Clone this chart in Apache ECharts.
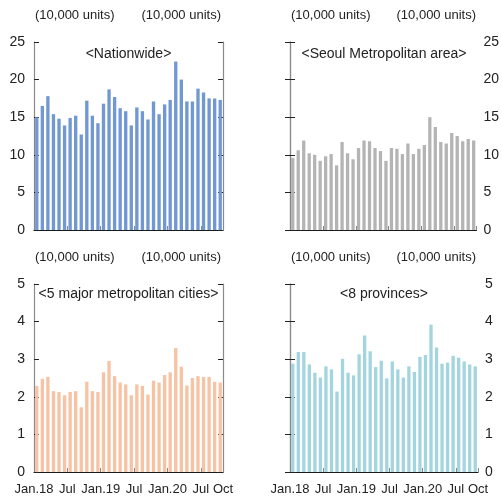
<!DOCTYPE html>
<html>
<head>
<meta charset="utf-8">
<title>Housing transactions</title>
<script src="https://cdn.jsdelivr.net/npm/echarts@6/dist/echarts.min.js"></script>
<style>
  html, body { margin: 0; padding: 0; background: #fff; }
  #chart { width: 502px; height: 499px; }
</style>
</head>
<body>
<div id="chart"></div>
<script>
// months Jan.18 .. Oct.20
const months = [
  '2018-01', '2018-02', '2018-03', '2018-04', '2018-05', '2018-06',
  '2018-07', '2018-08', '2018-09', '2018-10', '2018-11', '2018-12',
  '2019-01', '2019-02', '2019-03', '2019-04', '2019-05', '2019-06',
  '2019-07', '2019-08', '2019-09', '2019-10', '2019-11', '2019-12',
  '2020-01', '2020-02', '2020-03', '2020-04', '2020-05', '2020-06',
  '2020-07', '2020-08', '2020-09', '2020-10'
];

// x tick marks sit on month boundaries
const tickPos = [0, 6, 12, 18, 24, 30, 34];
const tickLabels = ['Jan.18', 'Jul', 'Jan.19', 'Jul', 'Jan.20', 'Jul', 'Oct'];

// (10,000 units)
const nationwide = [
  15.0, 16.5, 17.8, 15.4, 14.8, 13.9, 14.9, 15.2, 12.7, 17.2, 15.2, 14.2,
  16.8, 18.7, 17.7, 16.2, 15.8, 13.9, 16.3, 15.8, 14.7, 17.1, 15.4, 16.7,
  17.3, 22.4, 20.0, 17.1, 17.1, 18.8, 18.3, 17.5, 17.5, 17.3
];
const seoulArea = [
  9.6, 10.6, 11.9, 10.2, 10.0, 9.2, 9.8, 10.1, 8.6, 11.7, 10.2, 9.4,
  10.9, 11.9, 11.8, 10.9, 10.5, 9.2, 10.9, 10.8, 10.1, 11.5, 10.1, 10.8,
  11.3, 15.0, 13.7, 11.7, 11.5, 12.9, 12.5, 11.8, 12.1, 11.9
];
const majorCities = [
  2.29, 2.48, 2.53, 2.15, 2.13, 2.04, 2.13, 2.15, 1.72, 2.40, 2.15, 2.13,
  2.65, 2.95, 2.55, 2.38, 2.33, 2.04, 2.33, 2.29, 2.06, 2.43, 2.38, 2.58,
  2.65, 3.30, 2.80, 2.30, 2.50, 2.55, 2.53, 2.53, 2.40, 2.38
];
const provinces = [
  2.88, 3.19, 3.19, 2.86, 2.64, 2.51, 2.81, 2.73, 2.14, 3.01, 2.64, 2.57,
  3.13, 3.63, 3.21, 2.79, 2.96, 2.49, 2.94, 2.73, 2.51, 2.81, 2.66, 3.06,
  3.11, 3.92, 3.31, 2.88, 2.91, 3.09, 3.04, 2.94, 2.86, 2.81
];

const unitText = '(10,000 units)';
const FONT = '"Liberation Sans", Arial, sans-serif';

const panels = [
  { title: '<Nationwide>', data: nationwide, color: '#7198d1', max: 25, step: 5,
    side: 'left', left: 34, top: 42, width: 189, titleY: 54, xLabels: false },
  { title: '<Seoul Metropolitan area>', data: seoulArea, color: '#b4b4b4', max: 25, step: 5,
    side: 'right', left: 290, top: 42, width: 188, titleY: 54, xLabels: false },
  { title: '<5 major metropolitan cities>', data: majorCities, color: '#f6c4a4', max: 5, step: 1,
    side: 'left', left: 34, top: 284, width: 189, titleY: 294, xLabels: true },
  { title: '<8 provinces>', data: provinces, color: '#a4d5df', max: 5, step: 1,
    side: 'right', left: 290, top: 284, width: 188, titleY: 294, xLabels: true }
];
const panelHeight = 188;

const grid = [], xAxis = [], yAxis = [], series = [], graphic = [];

panels.forEach((p, i) => {
  grid.push({ left: p.left, top: p.top, width: p.width, height: panelHeight });

  // bars live on a hidden category axis
  xAxis.push({
    type: 'category', gridIndex: i, data: months, show: false, position: 'bottom',
    boundaryGap: true
  });
  // visible time axis: ticks and labels on month boundaries
  xAxis.push({
    type: 'value', gridIndex: i, position: 'bottom', min: 0, max: 34, interval: 6,
    axisLine: { show: true, lineStyle: { color: '#1a1a1a', width: 1.2 } },
    axisTick: { show: true, inside: true, length: 4, lineStyle: { color: '#888' } },
    splitLine: { show: false },
    axisLabel: {
      show: p.xLabels, margin: 11, color: '#222', fontFamily: FONT, fontSize: 13,
      showMinLabel: true, showMaxLabel: true,
      formatter: v => {
        const k = tickPos.indexOf(v);
        return k >= 0 ? tickLabels[k] : '';
      }
    }
  });

  const other = p.side === 'left' ? 'right' : 'left';
  const yBase = {
    type: 'value', gridIndex: i, min: 0, max: p.max, interval: p.step,
    axisLine: { show: true, lineStyle: { color: '#8a8a8a', width: 1.2 } },
    axisTick: { show: true, inside: true, length: 5, lineStyle: { color: '#222' } },
    splitLine: { show: false }
  };
  yAxis.push(Object.assign({}, yBase, {
    position: p.side,
    axisLabel: {
      show: true, color: '#222', fontFamily: FONT, fontSize: 14,
      margin: p.side === 'left' ? 9 : 7
    }
  }));
  yAxis.push(Object.assign({}, yBase, {
    position: other,
    axisLabel: { show: false }
  }));

  series.push({
    type: 'bar', xAxisIndex: 2 * i, yAxisIndex: 2 * i, data: p.data,
    barWidth: '60%', itemStyle: { color: p.color }, silent: true
  });

  // panel title
  graphic.push({
    type: 'text', x: p.left + p.width / 2, y: p.titleY,
    style: {
      text: p.title, fill: '#222', font: '14px ' + FONT,
      textAlign: 'center', textVerticalAlign: 'middle'
    }
  });
  // units above both vertical axes
  const unitY = p.top - 27;
  graphic.push({
    type: 'text', x: p.left + 1, y: unitY,
    style: { text: unitText, fill: '#222', font: '13px ' + FONT,
      textAlign: 'left', textVerticalAlign: 'middle' }
  });
  graphic.push({
    type: 'text', x: p.left + p.width - 2, y: unitY,
    style: { text: unitText, fill: '#222', font: '13px ' + FONT,
      textAlign: 'right', textVerticalAlign: 'middle' }
  });
});

const chart = echarts.init(document.getElementById('chart'), null, { renderer: 'canvas' });
chart.setOption({
  animation: false,
  backgroundColor: '#fff',
  textStyle: { fontFamily: FONT },
  grid: grid,
  xAxis: xAxis,
  yAxis: yAxis,
  series: series,
  graphic: graphic
});
</script>
</body>
</html>
